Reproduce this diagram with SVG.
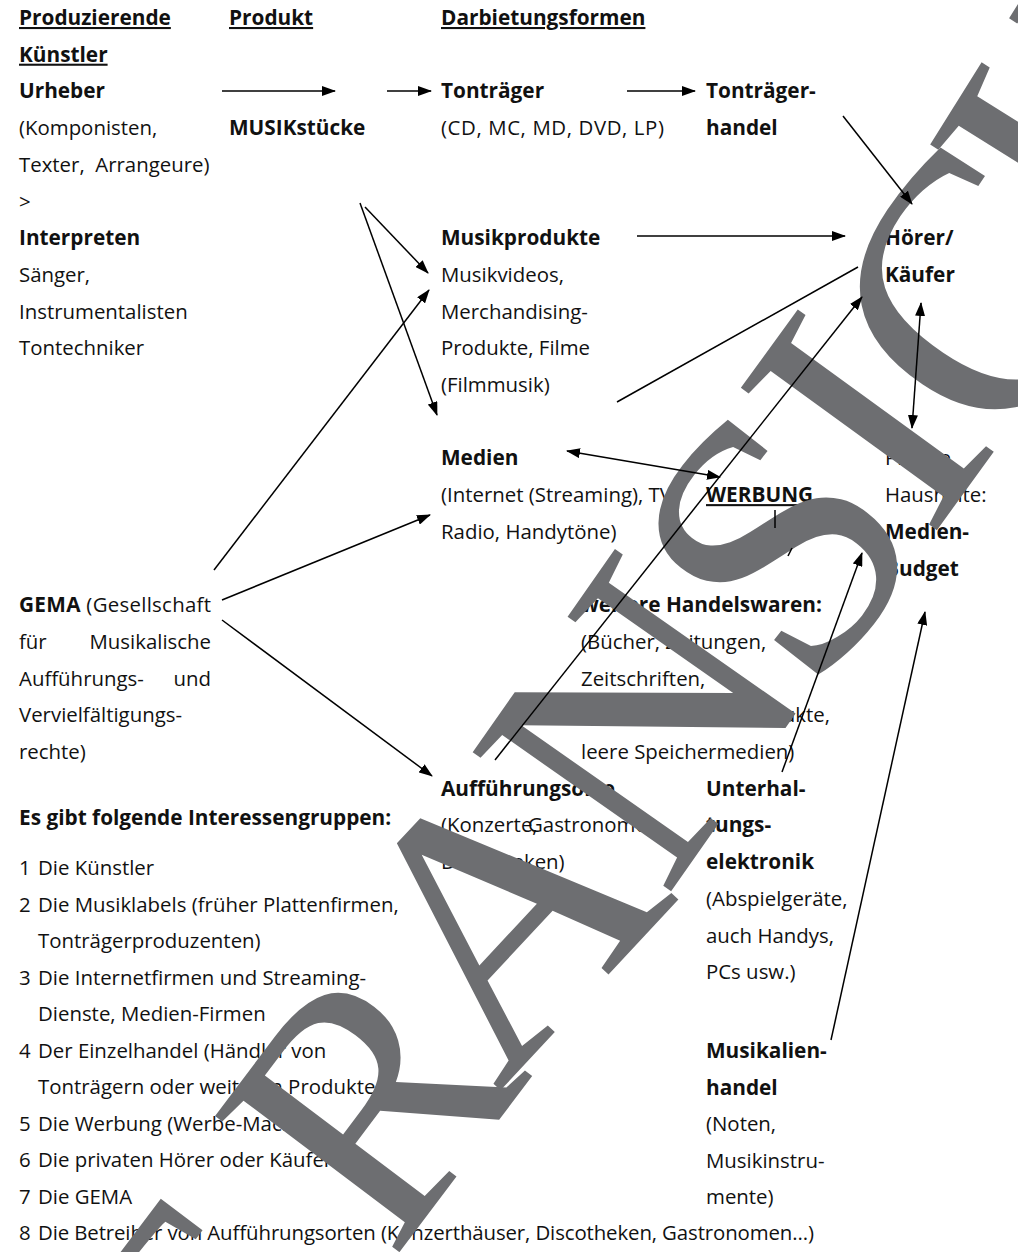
<svg xmlns="http://www.w3.org/2000/svg" width="1018" height="1252" viewBox="0 0 1018 1252">
<defs>
<style>
.t{font-family:"Open Sans","Noto Sans",sans-serif;font-size:20.4px;fill:#111}
.b{font-weight:bold;font-size:20.8px}
.u{text-decoration:underline}
.c{stroke:#000;stroke-width:1.5;fill:none}
.wm{font-family:"Liberation Serif","Times New Roman",serif;font-size:370px;fill:#6d6e71}
</style>
<marker id="ah" viewBox="0 0 14 10" refX="13" refY="5" markerWidth="14" markerHeight="10" markerUnits="userSpaceOnUse" orient="auto-start-reverse"><path d="M0,0 L14,5 L0,10 z" fill="#000"/></marker>
</defs>
<rect width="1018" height="1252" fill="#fff"/>
<g id="kuenstler" class="t">
<text x="19" y="25" class="b u">Produzierende</text>
<text x="19" y="61.7" class="b u">Künstler</text>
<text x="19" y="98.4" class="b">Urheber</text>
<text x="19" y="135.1">(Komponisten,</text>
<text x="19" y="171.8" xml:space="preserve">Texter,  Arrangeure)</text>
<text x="19" y="208.5">&gt;</text>
<text x="19" y="245.2" class="b">Interpreten</text>
<text x="19" y="281.9">Sänger,</text>
<text x="19" y="318.6">Instrumentalisten</text>
<text x="19" y="355.3">Tontechniker</text>
</g>
<g id="produkt" class="t">
<text x="229" y="25" class="b u">Produkt</text>
<text x="229" y="135.1" class="b">MUSIKstücke</text>
</g>
<g id="darbietung" class="t">
<text x="441" y="25" class="b u">Darbietungsformen</text>
</g>
<g id="tontraeger" class="t">
<text x="441" y="98.4" class="b">Tonträger</text>
<text x="441" y="135.1" textLength="223" lengthAdjust="spacing">(CD, MC, MD, DVD, LP)</text>
</g>
<g id="tontraegerhandel" class="t">
<text x="706" y="98.4" class="b">Tonträger-</text>
<text x="706" y="135.1" class="b">handel</text>
</g>
<g id="musikprodukte" class="t">
<text x="441" y="245.2" class="b">Musikprodukte</text>
<text x="441" y="281.9">Musikvideos,</text>
<text x="441" y="318.6">Merchandising-</text>
<text x="441" y="355.3">Produkte, Filme</text>
<text x="441" y="392">(Filmmusik)</text>
</g>
<g id="hoerer" class="t">
<text x="885" y="245.2" class="b">Hörer/</text>
<text x="885" y="281.9" class="b">Käufer</text>
</g>
<g id="medien" class="t">
<text x="441" y="465.4" class="b">Medien</text>
<text x="441" y="502.1">(Internet (Streaming), TV,</text>
<text x="441" y="538.8">Radio, Handytöne)</text>
</g>
<g id="werbung" class="t">
<text x="706" y="502.1" class="b u">WERBUNG</text>
</g>
<g id="haushalte" class="t">
<text x="885" y="465.4">Private</text>
<text x="885" y="502.1">Haushalte:</text>
<text x="885" y="538.8" class="b">Medien-</text>
<text x="885" y="575.5" class="b">Budget</text>
</g>
<g id="gema" class="t">
<text x="19" y="612.2" textLength="192" lengthAdjust="spacing"><tspan class="b">GEMA</tspan> (Gesellschaft</text>
<text x="19" y="648.9">für</text>
<text x="211" y="648.9" text-anchor="end">Musikalische</text>
<text x="19" y="685.6">Aufführungs-</text>
<text x="211" y="685.6" text-anchor="end">und</text>
<text x="19" y="722.3">Vervielfältigungs-</text>
<text x="19" y="759">rechte)</text>
</g>
<g id="handelswaren" class="t">
<text x="581" y="612.2" class="b">weitere Handelswaren:</text>
<text x="581" y="648.9">(Bücher, Zeitungen,</text>
<text x="581" y="685.6">Zeitschriften,</text>
<text x="830" y="722.3" text-anchor="end">Elektronikprodukte,</text>
<text x="581" y="759">leere Speichermedien)</text>
</g>
<g id="auffuehrungsorte" class="t">
<text x="441" y="795.7" class="b">Aufführungsorte</text>
<text x="441" y="832.4">(Konzerte,</text>
<text x="528" y="832.4">Gastronomen,</text>
<text x="441" y="869.1">Discotheken)</text>
</g>
<g id="unterhaltung" class="t">
<text x="706" y="795.7" class="b">Unterhal-</text>
<text x="706" y="832.4" class="b">tungs-</text>
<text x="706" y="869.1" class="b">elektronik</text>
<text x="706" y="905.8">(Abspielgeräte,</text>
<text x="706" y="942.5">auch Handys,</text>
<text x="706" y="979.2">PCs usw.)</text>
</g>
<g id="musikalienhandel" class="t">
<text x="706" y="1058" class="b">Musikalien-</text>
<text x="706" y="1094.5" class="b">handel</text>
<text x="706" y="1131">(Noten,</text>
<text x="706" y="1167.5">Musikinstru-</text>
<text x="706" y="1204">mente)</text>
</g>
<g id="interessengruppen" class="t">
<text x="19" y="825" class="b">Es gibt folgende Interessengruppen:</text>
<text x="19" y="875">1</text><text x="38" y="875">Die Künstler</text>
<text x="19" y="911.5">2</text><text x="38" y="911.5">Die Musiklabels (früher Plattenfirmen,</text>
<text x="38" y="948">Tonträgerproduzenten)</text>
<text x="19" y="984.5">3</text><text x="38" y="984.5">Die Internetfirmen und Streaming-</text>
<text x="38" y="1021">Dienste, Medien-Firmen</text>
<text x="19" y="1057.5">4</text><text x="38" y="1057.5">Der Einzelhandel (Händler von</text>
<text x="38" y="1094">Tonträgern oder weiteren Produkten)</text>
<text x="19" y="1130.5">5</text><text x="38" y="1130.5">Die Werbung (Werbe-Macher)</text>
<text x="19" y="1167">6</text><text x="38" y="1167">Die privaten Hörer oder Käufer</text>
<text x="19" y="1203.5">7</text><text x="38" y="1203.5">Die GEMA</text>
<text x="19" y="1240">8</text><text x="38" y="1240" textLength="776" lengthAdjust="spacing">Die Betreiber von Aufführungsorten (Konzerthäuser, Discotheken, Gastronomen...)</text>
</g>
<g id="watermark" class="wm">
<text transform="translate(217,1494) rotate(-53)" font-size="340">T</text>
<text transform="translate(392,1262) rotate(-53)" font-size="350">R</text>
<text transform="translate(498,1093) rotate(-47)">A</text>
<text transform="translate(665,900) rotate(-55)">N</text>
<text transform="translate(810,700) rotate(-52)">S</text>
<text transform="translate(929,541) rotate(-54)">I</text>
<text transform="translate(1012,463) rotate(-56)">C</text>
<text transform="translate(1130,282) rotate(-58)">H</text>
</g>
<g id="connectors" class="c">
<path d="M222,91 L335,91" marker-end="url(#ah)"/>
<path d="M387,91 L431,91" marker-end="url(#ah)"/>
<path d="M627,91 L695,91" marker-end="url(#ah)"/>
<path d="M843,116 L912,204" marker-end="url(#ah)"/>
<path d="M637,236 L845,236" marker-end="url(#ah)"/>
<path d="M365,207 L428,273" marker-end="url(#ah)"/>
<path d="M360,203 L437,415" marker-end="url(#ah)"/>
<path d="M214,570 L429,290" marker-end="url(#ah)"/>
<path d="M222,600 L430,515" marker-end="url(#ah)"/>
<path d="M222,620 L432,776" marker-end="url(#ah)"/>
<path d="M617,402 L858,267"/>
<path d="M495,760 L862,297" marker-end="url(#ah)"/>
<path d="M567,451 L720,477" marker-start="url(#ah)" marker-end="url(#ah)"/>
<path d="M775,510 L775,528"/>
<path d="M792,548 L788,556"/>
<path d="M782,772 L862,553" marker-end="url(#ah)"/>
<path d="M831,1040 L925,612" marker-end="url(#ah)"/>
<path d="M921,303 L912,428" marker-start="url(#ah)" marker-end="url(#ah)"/>
</g>
</svg>
